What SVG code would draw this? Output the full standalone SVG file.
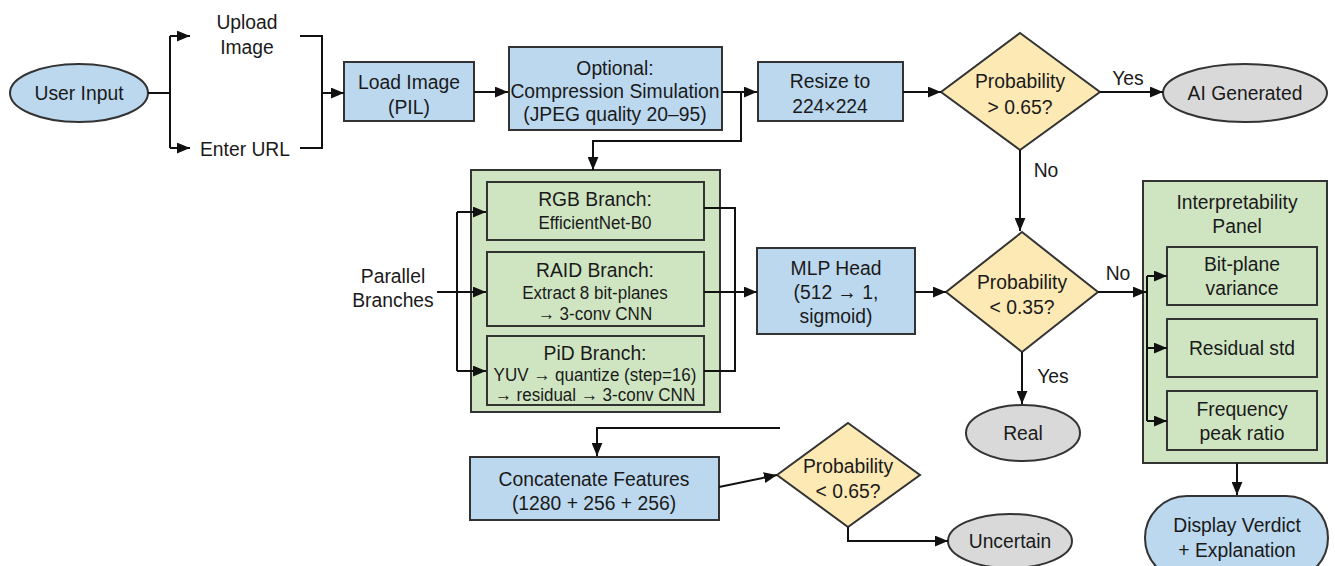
<svg xmlns="http://www.w3.org/2000/svg" width="1335" height="566" viewBox="0 0 1335 566">
<defs>
<marker id="ah" viewBox="0 0 12 10" refX="12" refY="5" markerWidth="13" markerHeight="11" markerUnits="userSpaceOnUse" orient="auto">
<path d="M0,0 L12,5 L0,10 z" fill="#111"/>
</marker>
<style>
text{font-family:"Liberation Sans Narrow","Liberation Sans",Arial,sans-serif;font-size:21px;fill:#1a1a1a;text-anchor:middle;dominant-baseline:central;transform-box:fill-box;transform-origin:center;transform:scaleX(0.92)}
.sm{font-size:18.5px}
.blue{fill:#bcd8ef;stroke:#333;stroke-width:2}
.green{fill:#cfe5c2;stroke:#333;stroke-width:2}
.yellow{fill:#fce9b4;stroke:#333;stroke-width:2}
.gray{fill:#d9d9d9;stroke:#333;stroke-width:2}
.c{fill:none;stroke:#111;stroke-width:2}
.a{fill:none;stroke:#111;stroke-width:2;marker-end:url(#ah)}
</style>
</defs>
<rect width="1335" height="566" fill="#fff"/>

<g id="user-input">
<ellipse class="blue" cx="79" cy="93" rx="69" ry="29"/>
<text x="79" y="93">User Input</text>
</g>

<g id="upload-image">
<text x="247" y="22">Upload</text>
<text x="247" y="47">Image</text>
</g>

<g id="enter-url">
<text x="245" y="149">Enter URL</text>
</g>

<g id="load-image">
<rect class="blue" x="344" y="62" width="130" height="59"/>
<text x="409" y="82">Load Image</text>
<text x="409" y="107">(PIL)</text>
</g>

<g id="compression">
<rect class="blue" x="509" y="47" width="213" height="83"/>
<text x="615" y="68">Optional:</text>
<text x="615" y="91">Compression Simulation</text>
<text x="615" y="114">(JPEG quality 20–95)</text>
</g>

<g id="resize">
<rect class="blue" x="758" y="62" width="145" height="59"/>
<text x="830" y="81">Resize to</text>
<text x="830" y="106">224×224</text>
</g>

<g id="decision-065">
<polygon class="yellow" points="1020,33 1100,92 1020,150 941,92"/>
<text x="1020" y="81">Probability</text>
<text x="1020" y="107">&gt; 0.65?</text>
</g>

<g id="ai-generated">
<ellipse class="gray" cx="1245" cy="93" rx="82" ry="29"/>
<text x="1245" y="93">AI Generated</text>
</g>

<g id="branches">
<rect class="green" x="471" y="170" width="249" height="242"/>
</g>

<g id="rgb-branch">
<rect class="green" x="487" y="182" width="217" height="58"/>
<text x="595" y="199">RGB Branch:</text>
<text x="595" y="223" class="sm">EfficientNet-B0</text>
</g>

<g id="raid-branch">
<rect class="green" x="487" y="252" width="217" height="74"/>
<text x="595" y="270">RAID Branch:</text>
<text x="595" y="293" class="sm">Extract 8 bit-planes</text>
<text x="595" y="314" class="sm">→ 3-conv CNN</text>
</g>

<g id="pid-branch">
<rect class="green" x="487" y="336" width="217" height="69"/>
<text x="595" y="353">PiD Branch:</text>
<text x="595" y="375" class="sm">YUV → quantize (step=16)</text>
<text x="595" y="395" class="sm">→ residual → 3-conv CNN</text>
</g>

<g id="parallel-branches">
<text x="393" y="276">Parallel</text>
<text x="393" y="300">Branches</text>
</g>

<g id="mlp-head">
<rect class="blue" x="757" y="248" width="158" height="86"/>
<text x="836" y="268">MLP Head</text>
<text x="836" y="292">(512 → 1,</text>
<text x="836" y="316">sigmoid)</text>
</g>

<g id="decision-035">
<polygon class="yellow" points="1022,232 1098,292 1022,352 946,292"/>
<text x="1022" y="282">Probability</text>
<text x="1022" y="307">&lt; 0.35?</text>
</g>

<g id="real">
<ellipse class="gray" cx="1023" cy="433" rx="57" ry="28"/>
<text x="1023" y="433">Real</text>
</g>

<g id="interpretability-panel">
<rect class="green" x="1143" y="181" width="184" height="282"/>
<text x="1237" y="202">Interpretability</text>
<text x="1237" y="226">Panel</text>
</g>

<g id="bit-plane">
<rect class="green" x="1167" y="247" width="150" height="58"/>
<text x="1242" y="264">Bit-plane</text>
<text x="1242" y="288">variance</text>
</g>

<g id="residual-std">
<rect class="green" x="1167" y="319" width="150" height="58"/>
<text x="1242" y="348">Residual std</text>
</g>

<g id="frequency">
<rect class="green" x="1167" y="391" width="150" height="59"/>
<text x="1242" y="409">Frequency</text>
<text x="1242" y="433">peak ratio</text>
</g>

<g id="display-verdict">
<rect class="blue" x="1145" y="496" width="183" height="84" rx="42"/>
<text x="1237" y="525">Display Verdict</text>
<text x="1237" y="550">+ Explanation</text>
</g>

<g id="concatenate">
<rect class="blue" x="470" y="457" width="249" height="63"/>
<text x="594" y="479">Concatenate Features</text>
<text x="594" y="503">(1280 + 256 + 256)</text>
</g>

<g id="decision-065b">
<polygon class="yellow" points="848,423 920,475 848,527 777,475"/>
<text x="848" y="466">Probability</text>
<text x="848" y="491">&lt; 0.65?</text>
</g>

<g id="uncertain">
<ellipse class="gray" cx="1010" cy="541" rx="62" ry="27"/>
<text x="1010" y="541">Uncertain</text>
</g>

<g id="connectors">
<path class="c" d="M148,93 H170 M170,36 V148"/>
<path class="a" d="M170,36 H190"/>
<path class="a" d="M170,148 H190"/>
<path class="c" d="M300,36 H322 V148 H300"/>
<path class="a" d="M322,93 H344"/>
<path class="a" d="M474,92 H508"/>
<path class="a" d="M722,92 H757"/>
<path class="a" d="M741,92 V141 H593 V170"/>
<path class="a" d="M903,92 H941"/>
<path class="a" d="M1100,92 H1163"/>
<path class="a" d="M1020,150 V231"/>
<path class="a" d="M437,292 H486"/>
<path class="c" d="M457,212 V371"/>
<path class="a" d="M457,212 H486"/>
<path class="a" d="M457,371 H486"/>
<path class="c" d="M704,208 H735 V371 H704"/>
<path class="a" d="M704,292 H757"/>
<path class="a" d="M915,292 H946"/>
<path class="a" d="M1098,292 H1146"/>
<path class="c" d="M1147,276 V421"/>
<path class="a" d="M1147,276 H1167"/>
<path class="a" d="M1147,348 H1167"/>
<path class="a" d="M1147,421 H1167"/>
<path class="a" d="M1022,352 V404"/>
<path class="a" d="M1237,463 V495"/>
<path class="a" d="M780,428 H597 V456"/>
<path class="a" d="M719,487 L777,475"/>
<path class="a" d="M848,527 V541 H948"/>
</g>

<g id="edge-labels">
<text x="1128" y="78">Yes</text>
<text x="1046" y="170">No</text>
<text x="1118" y="273">No</text>
<text x="1053" y="376">Yes</text>
</g>
</svg>
